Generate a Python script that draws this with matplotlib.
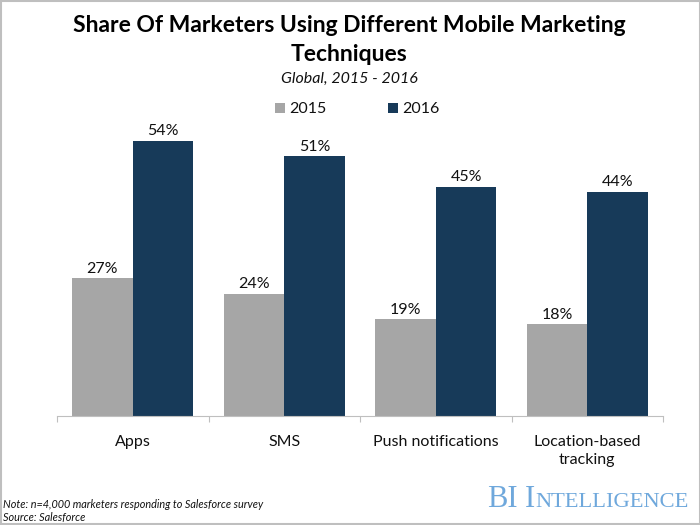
import matplotlib
matplotlib.use("Agg")
import matplotlib.pyplot as plt
from matplotlib.patches import Rectangle

categories = ["Apps", "SMS", "Push notifications", "Location-based\ntracking"]
values_2015 = [27, 24, 19, 18]
values_2016 = [54, 51, 45, 44]
series_names = ["2015", "2016"]
title = "Share Of Marketers Using Different Mobile Marketing\nTechniques"
subtitle = "Global, 2015 - 2016"
note_lines = ["Note: n=4,000 marketers responding to Salesforce survey", "Source: Salesforce"]

GRAY = "#A6A6A6"
NAVY = "#173A59"
plt.rcParams["font.family"] = ["Lato", "DejaVu Sans"]

W, H = 700, 525
fig = plt.figure(figsize=(7, 5.25), dpi=100)
L, R, T, B = 57, 663, 110, 416
ax = fig.add_axes([L / W, 1 - B / H, (R - L) / W, (B - T) / H])
ax.set_xlim(-0.5, 3.5)
ax.set_ylim(0, 60)
bw = 0.4
xs = list(range(len(categories)))
ax.bar([x - bw / 2 for x in xs], values_2015, bw, color=GRAY, linewidth=0)
ax.bar([x + bw / 2 for x in xs], values_2016, bw, color=NAVY, linewidth=0)
for off, vals in [(-bw / 2, values_2015), (bw / 2, values_2016)]:
    for x, v in zip(xs, vals):
        ax.annotate(f"{v}%", (x + off, v), xytext=(0, 1.6), textcoords="offset points",
                    ha="center", va="bottom", fontsize=11.5, color="#111111")

for s in ["top", "left", "right"]:
    ax.spines[s].set_visible(False)
ax.spines["bottom"].set_color("#BFBFBF")
ax.spines["bottom"].set_linewidth(0.8)
ax.set_yticks([])
ax.set_xticks([i - 0.5 for i in range(len(categories) + 1)])
ax.set_xticklabels([])
ax.tick_params(axis="x", length=4.5, width=0.8, color="#BFBFBF")
for x, c in zip(xs, categories):
    ax.annotate(c, (x, 0), xytext=(0, -13.5), textcoords="offset points", ha="center", va="top",
                fontsize=11.5, color="#111111", linespacing=1.4)

def fx(p): return p / W
def fy(p): return 1 - p / H

fig.text(fx(349), fy(40), title, ha="center", va="center", fontsize=16.5, fontweight="bold",
         color="black", linespacing=1.42)
fig.text(fx(349), fy(79), subtitle, ha="center", va="center", fontsize=11.5, style="italic", color="#111111")

for px, name, col in [(275, series_names[0], GRAY), (388, series_names[1], NAVY)]:
    fig.add_artist(Rectangle((fx(px), fy(113)), 10 / W, 10 / H,
                             transform=fig.transFigure, facecolor=col, edgecolor="none"))
    fig.text(fx(px + 14.5), fy(109), name, ha="left", va="center", fontsize=11.5, color="#111111")

fig.text(fx(3), fy(504), note_lines[0], ha="left", va="center", fontsize=7.8, style="italic", color="#111111")
fig.text(fx(3), fy(518), note_lines[1], ha="left", va="center", fontsize=7.8, style="italic", color="#111111")

# Brand mark with small caps
brand_col = "#6FA8DC"
serif = "Liberation Serif"
fig.text(fx(487), fy(507), "BI", ha="left", va="baseline", fontsize=22, family=serif, color=brand_col)
fig.text(fx(525), fy(507), "I", ha="left", va="baseline", fontsize=22, family=serif, color=brand_col)
fig.text(fx(535), fy(507), "NTELLIGENCE", ha="left", va="baseline", fontsize=16.2, family=serif, color=brand_col)

# Image frame
fig.add_artist(Rectangle((0.5 / W, 1 / H), (W - 1) / W, (H - 2) / H, transform=fig.transFigure,
                         facecolor="none", edgecolor="#BFBFBF", linewidth=1.5))
fig.savefig("out.png", dpi=100)
